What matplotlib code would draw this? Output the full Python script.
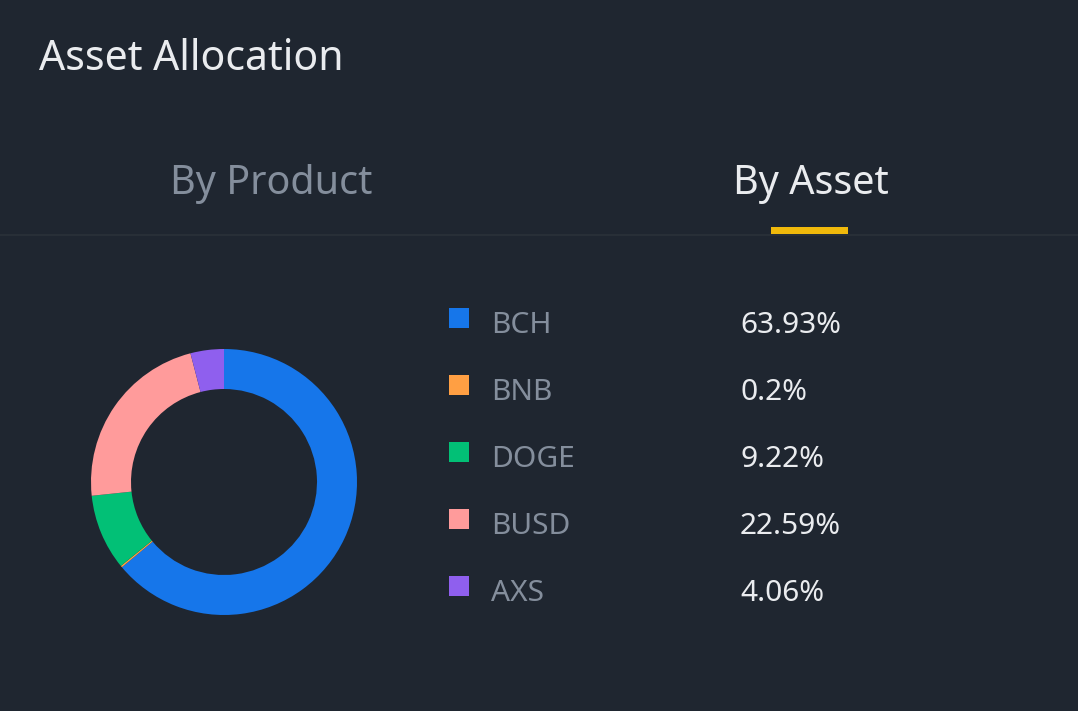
import matplotlib.pyplot as plt
from matplotlib.patches import Rectangle

assets = ['BCH', 'BNB', 'DOGE', 'BUSD', 'AXS']
shares = [63.93, 0.2, 9.22, 22.59, 4.06]
share_labels = ['63.93%', '0.2%', '9.22%', '22.59%', '4.06%']
colors = ['#1676EA', '#FF9F43', '#02C076', '#FF9B9B', '#8F5FEE']

W, H = 1078, 711
bg = '#1F2630'
grey = '#848E9C'
white = '#EAECEF'

plt.rcParams['font.family'] = ['Noto Sans', 'DejaVu Sans']

fig = plt.figure(figsize=(W / 100, H / 100), dpi=100, facecolor=bg)

# overlay axes in pixel coordinates (y downward)
ax = fig.add_axes([0, 0, 1, 1])
ax.set_xlim(0, W)
ax.set_ylim(H, 0)
ax.axis('off')
ax.set_facecolor(bg)

ax.text(39, 70, 'Asset Allocation', color=white, fontsize=29.5, fontweight='medium',
        va='baseline', ha='left')

ax.text(271, 194, 'By Product', color=grey, fontsize=28.5, fontweight='medium',
        va='baseline', ha='center')
ax.text(811, 194, 'By Asset', color=white, fontsize=28.5, fontweight='medium',
        va='baseline', ha='center')
ax.plot([0, W], [234.5, 234.5], color='#2B3139', lw=1.2)
ax.add_patch(Rectangle((771, 227), 77, 7, color='#F0B90B', lw=0))

# legend rows
row_y = 318
for name, lab, c in zip(assets, share_labels, colors):
    ax.add_patch(Rectangle((449, row_y - 10), 20, 20, color=c, lw=0))
    ax.text(491, row_y + 15, name, color=grey, fontsize=21.5, va='baseline', ha='left')
    ax.text(740, row_y + 15, lab, color=white, fontsize=21.5, va='baseline', ha='left')
    row_y += 67

# donut
cx, cy, r = 224, 482, 133
pax = fig.add_axes([(cx - r) / W, (H - cy - r) / H, 2 * r / W, 2 * r / H])
pax.pie(shares, colors=colors, startangle=90, counterclock=False, radius=1,
        wedgeprops=dict(width=40 / 133, linewidth=0))
pax.set_xlim(-1, 1)
pax.set_ylim(-1, 1)
pax.set_aspect('equal')
pax.axis('off')

fig.savefig('out.png', dpi=100, facecolor=bg)
